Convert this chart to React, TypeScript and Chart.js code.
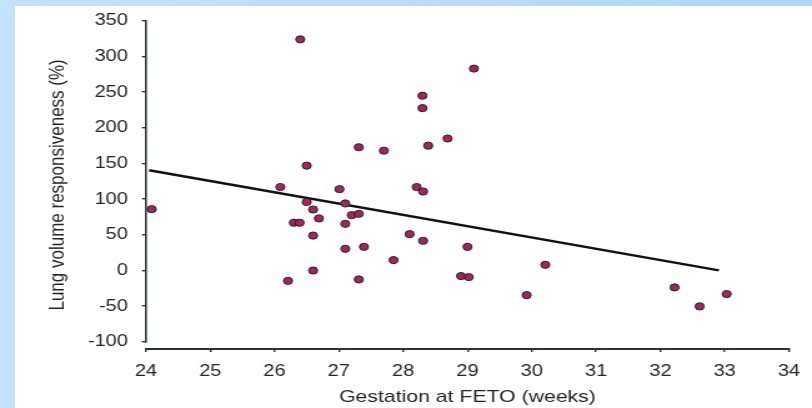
import React, { useEffect, useRef } from 'react';
import { Chart, registerables } from 'chart.js';

Chart.register(...registerables);

// Gestation at FETO (weeks)
const gestationWeeks = [
  24.09, 26.40, 26.09, 26.50, 26.30, 26.39, 26.50, 26.60, 26.69, 26.60,
  26.60, 26.21, 27.01, 27.10, 27.20, 27.31, 27.10, 27.10, 27.39, 27.31,
  27.31, 27.70, 27.85, 28.10, 28.21, 28.31, 28.30, 28.30, 28.39, 28.69,
  28.31, 29.10, 29.00, 28.90, 29.02, 29.92, 30.21, 32.22, 32.61, 33.03,
];
// Lung volume responsiveness (%)
const lungResponse = [
  86, 324, 117, 147, 67, 67, 96, 85.5, 73, 49,
  0, -14.5, 114, 94, 77.6, 79.4, 65.4, 30.4, 33.2, -12.5,
  172.8, 168, 14.6, 51, 117, 110.7, 245, 227.6, 175, 185,
  41.6, 283, 33.2, -7.8, -9.2, -34.5, 8, -23.7, -50.3, -33,
];
// Regression line end points
const fitWeeks = [24.05, 32.91];
const fitValues = [140.5, 0.2];

const xTickValues = [24, 25, 26, 27, 28, 29, 30, 31, 32, 33, 34];
const yTickValues = [-100, -50, 0, 50, 100, 150, 200, 250, 300, 350];

const xTitle = 'Gestation at FETO (weeks)';
const yTitle = 'Lung volume responsiveness (%)';

const AXIS = '#2a3538';
const TEXT = '#242424';
const FONT = "'Liberation Sans', Arial, Helvetica, sans-serif";
const CANVAS_W = 650;
const CANVAS_H = 408;

const ySpinePlugin = {
  id: 'ySpine',
  beforeDatasetsDraw(chart: any) {
    const { ctx, scales } = chart;
    const x = scales.x;
    const y = scales.y;
    const px = x.getPixelForValue(xTickValues[0]);
    ctx.save();
    ctx.strokeStyle = AXIS;
    ctx.lineWidth = 1.6;
    ctx.beginPath();
    ctx.moveTo(px, y.getPixelForValue(yTickValues[yTickValues.length - 1]) - 0.8);
    ctx.lineTo(px, y.getPixelForValue(yTickValues[0]) + 0.8);
    ctx.stroke();
    ctx.restore();
  },
};

export default function App() {
  const ref = useRef<HTMLCanvasElement | null>(null);

  useEffect(() => {
    if (!ref.current) return;
    const points = gestationWeeks.map((w, i) => ({ x: w, y: lungResponse[i] }));
    const fit = fitWeeks.map((w, i) => ({ x: w, y: fitValues[i] }));
    const chart = new Chart(ref.current, {
      type: 'scatter',
      data: {
        datasets: [
          {
            data: points,
            pointRadius: 3.6,
            pointBackgroundColor: '#9b2a5d',
            pointBorderColor: '#3a1828',
            pointBorderWidth: 1,
          },
          {
            data: fit,
            showLine: true,
            borderColor: '#111111',
            borderWidth: 2.4,
            pointRadius: 0,
          },
        ],
      },
      options: {
        responsive: false,
        devicePixelRatio: 1,
        animation: false,
        events: [],
        layout: { padding: { top: 20.5, right: 11.6, bottom: 0, left: 0 } },
        plugins: {
          legend: { display: false },
          tooltip: { enabled: false },
        },
        scales: {
          x: {
            type: 'linear',
            min: 24,
            max: 34,
            afterBuildTicks: (s: any) => {
              s.ticks = xTickValues.map((v) => ({ value: v }));
            },
            afterFit: (s: any) => {
              s.height = 59;
            },
            border: { display: true, color: AXIS, width: 2 },
            grid: { drawOnChartArea: false, drawTicks: true, tickLength: 3, color: AXIS, lineWidth: 1.4 },
            ticks: { color: TEXT, padding: 9.5, font: { family: FONT, size: 16 }, maxRotation: 0 },
            title: { display: true, text: xTitle, color: TEXT, font: { family: FONT, size: 17 }, padding: { top: 0, bottom: 0 } },
          },
          y: {
            type: 'linear',
            min: -110,
            max: 350,
            afterBuildTicks: (s: any) => {
              s.ticks = yTickValues.map((v) => ({ value: v }));
            },
            afterFit: (s: any) => {
              s.width = 116.8;
            },
            border: { display: false },
            grid: { drawOnChartArea: false, drawTicks: true, tickLength: 3.2, color: AXIS, lineWidth: 1.4 },
            ticks: { color: TEXT, padding: 11.2, font: { family: FONT, size: 16 } },
            title: { display: true, text: yTitle, color: TEXT, font: { family: FONT, size: 17 }, padding: { top: 36, bottom: 0 } },
          },
        },
      },
      plugins: [ySpinePlugin],
    });
    return () => chart.destroy();
  }, []);

  return (
    <div
      style={{
        position: 'fixed',
        left: 0,
        top: 0,
        width: '812px',
        height: '408px',
        overflow: 'hidden',
        background: 'linear-gradient(to right, #c4e2fb, #afd7f9)',
      }}
    >
      <div style={{ position: 'absolute', left: 15, top: 6, right: 0, bottom: 0, background: '#ffffff' }} />
      <canvas
        ref={ref}
        width={CANVAS_W}
        height={CANVAS_H}
        style={{ position: 'absolute', left: 0, top: 0, width: '812px', height: '408px' }}
      />
    </div>
  );
}
